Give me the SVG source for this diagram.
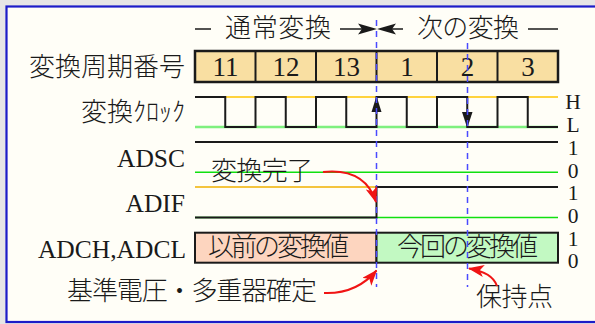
<svg xmlns="http://www.w3.org/2000/svg" width="595" height="324" viewBox="0 0 595 324">
<defs>
<style>
.jp{font-family:"Noto Sans CJK JP",sans-serif;font-size:26px;font-weight:300;fill:#1a1a1a}
.lt{font-family:"Liberation Serif",serif;font-size:25.5px;fill:#1a1a1a}
.num{font-family:"Liberation Serif",serif;font-size:27px;fill:#1a1a1a;text-anchor:middle}
.lv{font-family:"Liberation Serif",serif;font-size:21.5px;fill:#1a1a1a;text-anchor:middle}
.wave{fill:none;stroke:#1a1a1a;stroke-width:2}
.dash{stroke:#4a4aff;stroke-width:1.5;stroke-dasharray:6,5;fill:none}
.red{fill:none;stroke:#f01414;stroke-width:2}
.blk{stroke:#1a1a1a;stroke-width:1.5;fill:none}
</style>
<marker id="ra" markerUnits="userSpaceOnUse" markerWidth="16" markerHeight="12" viewBox="0 0 16 12" refX="15" refY="6" orient="auto">
<path d="M0,0 L16,6 L0,12 L4,6 Z" fill="#f01414"/>
</marker>
</defs>
<rect x="0" y="0" width="595" height="324" fill="#e6e6e6"/>
<rect x="6.5" y="6.5" width="600" height="315.5" fill="#fffef7" stroke="#1c1cc8" stroke-width="2.2"/>

<g id="phase-labels">
<line class="blk" x1="195" y1="29" x2="211" y2="29"/>
<text class="jp" x="225" y="37" textLength="106" lengthAdjust="spacing">通常変換</text>
<line class="blk" x1="340" y1="29" x2="370" y2="29"/>
<path d="M377,29 L358,23.5 L362,29 L358,34.5 Z" fill="#1a1a1a"/>
<line class="blk" x1="384" y1="29" x2="403" y2="29"/>
<path d="M377,29 L396,23.5 L392,29 L396,34.5 Z" fill="#1a1a1a"/>
<text class="jp" x="417" y="37" textLength="102" lengthAdjust="spacing">次の変換</text>
<line class="blk" x1="528" y1="29" x2="558" y2="29"/>
</g>

<g id="row-labels">
<text class="jp" x="185" y="76" text-anchor="end">変換周期番号</text>
<text class="jp" x="185" y="121" text-anchor="end">変換ｸﾛｯｸ</text>
<text class="lt" x="185" y="166.5" text-anchor="end">ADSC</text>
<text class="lt" x="185" y="211.5" text-anchor="end">ADIF</text>
<text class="lt" x="186" y="258" text-anchor="end">ADCH,ADCL</text>
</g>

<g id="cycle-row">
<rect x="195" y="51" width="363" height="31" fill="#f9dfa2" stroke="#1a1a1a" stroke-width="2.5"/>
<g stroke="#1a1a1a" stroke-width="2">
<line x1="255.5" y1="51" x2="255.5" y2="82"/>
<line x1="316" y1="51" x2="316" y2="82"/>
<line x1="376.5" y1="51" x2="376.5" y2="82"/>
<line x1="437" y1="51" x2="437" y2="82"/>
<line x1="497.5" y1="51" x2="497.5" y2="82"/>
</g>
<text class="num" x="225.5" y="76">11</text>
<text class="num" x="286" y="76">12</text>
<text class="num" x="346.5" y="76">13</text>
<text class="num" x="407" y="76">1</text>
<text class="num" x="467.5" y="76">2</text>
<text class="num" x="528" y="76">3</text>
</g>

<g id="clock">
<line x1="195" y1="97" x2="558" y2="97" stroke="#ffc400" stroke-width="1.5"/>
<line x1="195" y1="127" x2="558" y2="127" stroke="#7ef07e" stroke-width="2.5"/>
<polyline class="wave" points="195,97 225.25,97 225.25,127 255.5,127 255.5,97 285.75,97 285.75,127 316,127 316,97 346.25,97 346.25,127 376.5,127 376.5,97 406.75,97 406.75,127 437,127 437,97 467.25,97 467.25,127 497.5,127 497.5,97 527.75,97 527.75,127 558,127"/>
<path d="M376.5,96 L371.5,112 L381.5,112 Z" fill="#1a1a1a"/>
<path d="M467.25,128 L462,112 L472.5,112 Z" fill="#1a1a1a"/>
</g>

<g id="adsc">
<line x1="195" y1="172.3" x2="558" y2="172.3" stroke="#10e010" stroke-width="1.5"/>
<line class="wave" x1="195" y1="142" x2="558" y2="142"/>
</g>

<g id="adif">
<line x1="195" y1="187" x2="558" y2="187" stroke="#f0b000" stroke-width="1.5"/>
<line x1="195" y1="217.5" x2="558" y2="217.5" stroke="#10e010" stroke-width="1.5"/>
<polyline class="wave" points="195,217.5 376.5,217.5 376.5,187 558,187"/>
</g>

<g id="adc-data">
<rect x="195" y="232.7" width="181.5" height="30" fill="#fdd5bf" stroke="#1a1a1a" stroke-width="2"/>
<rect x="376.5" y="232.7" width="181.5" height="30" fill="#c2f9c2" stroke="#1a1a1a" stroke-width="2"/>
<text class="jp" x="208" y="256" font-size="23" textLength="141" lengthAdjust="spacing">以前の変換値</text>
<text class="jp" x="397" y="256" font-size="23" textLength="141" lengthAdjust="spacing">今回の変換値</text>
</g>

<g id="level-labels">
<text class="lv" x="573" y="109">H</text>
<text class="lv" x="573" y="132">L</text>
<text class="lv" x="573" y="154.5">1</text>
<text class="lv" x="573" y="177.5">0</text>
<text class="lv" x="573" y="200">1</text>
<text class="lv" x="573" y="223">0</text>
<text class="lv" x="573" y="245.5">1</text>
<text class="lv" x="573" y="268">0</text>
</g>

<g id="markers">
<line class="dash" x1="376.5" y1="20" x2="376.5" y2="287"/>
<line class="dash" x1="467.5" y1="43" x2="467.5" y2="287"/>
</g>

<g id="annotations">
<text class="jp" x="211" y="180" textLength="102" lengthAdjust="spacing">変換完了</text>
<text class="jp" x="67" y="300" font-size="25" textLength="250" lengthAdjust="spacing">基準電圧・多重器確定</text>
<text class="jp" x="476" y="306" textLength="77" lengthAdjust="spacing">保持点</text>
</g>

<g id="connectors">
<path class="red" d="M323,172 C352,169 369,180 376,202" marker-end="url(#ra)"/>
<path class="red" d="M324,293 C348,294 365,284 376.5,270.5" marker-end="url(#ra)"/>
<path class="red" d="M497,286 C494,277 484,271 469,268.5" marker-end="url(#ra)"/>
</g>
</svg>
